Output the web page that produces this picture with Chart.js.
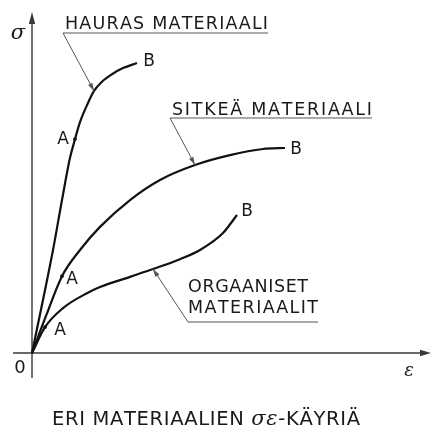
<!DOCTYPE html>
<html>
<head>
<meta charset="utf-8">
<script src="https://cdn.jsdelivr.net/npm/chart.js@4.4.1/dist/chart.umd.min.js"></script>
<style>
  html, body { margin: 0; padding: 0; background: #fff; }
  #wrap { width: 433px; height: 434px; position: relative; }
</style>
</head>
<body>
<div id="wrap"><canvas id="kayrat"></canvas></div>
<script>
// venymä (ε) ja jännitys (σ), mielivaltaiset yksiköt
const epsHauras = [0, 5.25, 7.5, 9.5, 10.75, 12, 13.75, 15.5, 17.5, 20, 22.75, 26.25];
const sigHauras = [0, 30.3, 45.0, 57.4, 62.9, 67.9, 72.9, 77.1, 79.8, 82.0, 83.8, 85.3];

const epsSitkea = [0, 3.5, 7.5, 12, 17, 24.5, 32, 40.75, 49.5, 57.75, 63.25];
const sigSitkea = [0, 10.9, 22.6, 30.3, 37.1, 45.0, 50.9, 55.3, 58.2, 60.0, 60.3];

const epsOrgaaninen = [0, 3.25, 7.75, 13.75, 17, 24.5, 30.25, 37, 42, 47.75, 51.25];
const sigOrgaaninen = [0, 7.6, 13.2, 17.6, 19.4, 22.4, 24.7, 27.6, 30.3, 35.3, 40.6];

const kayraNimet = [["HAURAS MATERIAALI"], ["SITKEÄ MATERIAALI"], ["ORGAANISET", "MATERIAALIT"]];
const pisteA = [4, 2, 1];       // A-pisteen indeksi kullakin käyrällä
const nuoliKohta = [7, 7, 6];   // mihin nimiön nuoli osoittaa
const tickLabels = ["0"];
const axisTitles = ["σ", "ε"];
const otsikko = ["ERI MATERIAALIEN ", "σε", "-KÄYRIÄ"];

const pisteet = (xs, ys) => xs.map((v, i) => ({ x: v, y: ys[i] }));

// nimiöiden paikat: vasen reuna, rivien perusviivat ja leveydet, alleviivaus
const nimiLaatikot = [
  { x: 65, rivit: [29], lev: [203], viiva: { y: 33, x0: 63, x1: 268 } },
  { x: 172, rivit: [115], lev: [200], viiva: { y: 118, x0: 170, x1: 372 } },
  { x: 188, rivit: [292, 313], lev: [120, 130], viiva: { y: 322, x0: 188, x1: 318 } }
];
const aSiirto = [[-12, 0], [10, 3], [15, 3]];
const bSiirto = [[12, -1], [11, 2], [10, -3]];

const FONT = '"DejaVu Sans", sans-serif';

// piirtää tekstipalat niin, että kokonaisleveys on annettu
function sovitaTeksti(ctx, palat, x, y, lev) {
  const merkit = [];
  palat.forEach(p => { for (const m of p.t) merkit.push({ m, font: p.font }); });
  let summa = 0;
  merkit.forEach(o => { ctx.font = o.font; o.w = ctx.measureText(o.m).width; summa += o.w; });
  const vali = merkit.length > 1 ? (lev - summa) / (merkit.length - 1) : 0;
  ctx.textAlign = 'left';
  ctx.textBaseline = 'alphabetic';
  let cx = x;
  merkit.forEach(o => {
    ctx.font = o.font;
    ctx.fillText(o.m, cx, y);
    cx += o.w + vali;
  });
}

function nuolenKarki(ctx, x1, y1, x2, y2, pit, lev) {
  const a = Math.atan2(y2 - y1, x2 - x1);
  ctx.beginPath();
  ctx.moveTo(x2, y2);
  ctx.lineTo(x2 - pit * Math.cos(a) + lev * Math.sin(a), y2 - pit * Math.sin(a) - lev * Math.cos(a));
  ctx.lineTo(x2 - pit * Math.cos(a) - lev * Math.sin(a), y2 - pit * Math.sin(a) + lev * Math.cos(a));
  ctx.closePath();
  ctx.fill();
}

const piirros = {
  id: 'piirros',
  beforeDatasetsDraw(chart) {
    const { ctx, scales: { x, y } } = chart;
    const x0 = x.getPixelForValue(0), y0 = y.getPixelForValue(0);
    ctx.save();
    ctx.strokeStyle = '#3a3a3a';
    ctx.fillStyle = '#3a3a3a';
    ctx.lineWidth = 1.4;
    ctx.beginPath();
    ctx.moveTo(x.left, y0); ctx.lineTo(x.right - 6, y0);
    ctx.moveTo(x0, y.bottom); ctx.lineTo(x0, y.top + 6);
    ctx.stroke();
    nuolenKarki(ctx, x.left, y0, x.right, y0, 11, 3.2);
    nuolenKarki(ctx, x0, y.bottom, x0, y.top, 12, 3.2);

    ctx.fillStyle = '#1a1a1a';
    ctx.textAlign = 'center';
    ctx.textBaseline = 'middle';
    ctx.font = '18px ' + FONT;
    ctx.fillText(tickLabels[0], x0 - 12, y0 + 15);
    ctx.font = 'italic 21px "DejaVu Serif", serif';
    ctx.fillText(axisTitles[0], x0 - 14, y.top + 22);
    ctx.font = 'italic 18px "DejaVu Serif", serif';
    ctx.fillText(axisTitles[1], x.right - 22, y0 + 18);
    ctx.restore();
  },
  afterDatasetsDraw(chart) {
    const { ctx } = chart;
    ctx.save();
    chart.data.datasets.forEach((ds, i) => {
      const pts = chart.getDatasetMeta(i).data;
      const a = pts[pisteA[i]], b = pts[pts.length - 1], k = pts[nuoliKohta[i]];

      // A-piste ja kirjaimet
      ctx.fillStyle = '#111';
      ctx.beginPath();
      ctx.arc(a.x, a.y, 1.8, 0, Math.PI * 2);
      ctx.fill();
      ctx.fillStyle = '#1a1a1a';
      ctx.font = '17px ' + FONT;
      ctx.textAlign = 'center';
      ctx.textBaseline = 'middle';
      ctx.fillText('A', a.x + aSiirto[i][0], a.y + aSiirto[i][1]);
      ctx.fillText('B', b.x + bSiirto[i][0], b.y + bSiirto[i][1]);

      // nimiö, alleviivaus ja nuoli käyrälle
      const n = nimiLaatikot[i];
      kayraNimet[i].forEach((rivi, r) => {
        sovitaTeksti(ctx, [{ t: rivi, font: '17.5px ' + FONT }], n.x, n.rivit[r], n.lev[r]);
      });
      ctx.strokeStyle = '#555';
      ctx.fillStyle = '#555';
      ctx.lineWidth = 1;
      ctx.beginPath();
      ctx.moveTo(n.viiva.x1, n.viiva.y);
      ctx.lineTo(n.viiva.x0, n.viiva.y);
      ctx.lineTo(k.x, k.y);
      ctx.stroke();
      nuolenKarki(ctx, n.viiva.x0, n.viiva.y, k.x, k.y, 8, 2.4);
    });

    // otsikko kuvan alla
    ctx.fillStyle = '#1a1a1a';
    sovitaTeksti(ctx, [
      { t: otsikko[0], font: '19.5px ' + FONT },
      { t: otsikko[1], font: 'italic 21px "DejaVu Serif", serif' },
      { t: otsikko[2], font: '19.5px ' + FONT }
    ], 52, 425, 308);
    ctx.restore();
  }
};

const kayra = (xs, ys) => ({
  data: pisteet(xs, ys),
  showLine: true,
  borderColor: '#111',
  borderWidth: 2.2,
  pointRadius: 0,
  cubicInterpolationMode: 'monotone',
  fill: false
});

new Chart(document.getElementById('kayrat'), {
  type: 'scatter',
  data: {
    datasets: [
      kayra(epsHauras, sigHauras),
      kayra(epsSitkea, sigSitkea),
      kayra(epsOrgaaninen, sigOrgaaninen)
    ]
  },
  options: {
    responsive: true,
    maintainAspectRatio: false,
    animation: false,
    layout: { padding: { left: 13, right: 2, top: 12, bottom: 56 } },
    scales: {
      x: { type: 'linear', min: -4.75, max: 99.75, display: false },
      y: { type: 'linear', min: -7.35, max: 100.3, display: false }
    },
    plugins: { legend: { display: false }, tooltip: { enabled: false } }
  },
  plugins: [piirros]
});
</script>
</body>
</html>
